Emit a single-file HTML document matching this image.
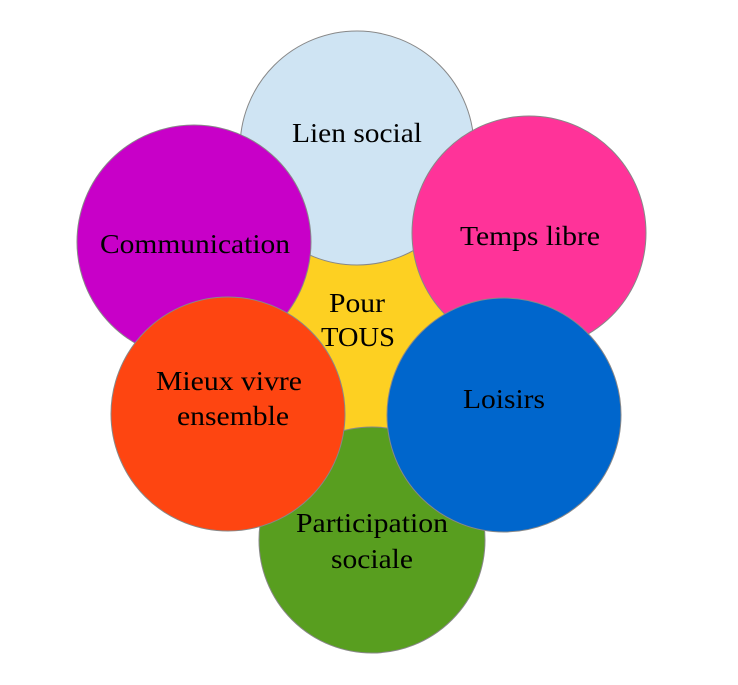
<!DOCTYPE html>
<html><head><meta charset="utf-8"><style>html,body{margin:0;padding:0;background:#fff}svg{display:block}</style></head>
<body>
<svg width="738" height="685" viewBox="0 0 738 685" xmlns="http://www.w3.org/2000/svg">
<g stroke="#888" stroke-width="1">
<circle cx="362" cy="330" r="108" fill="#fdd022" stroke="none"/>
<circle cx="372" cy="540" r="113" fill="#589e1f"/>
<circle cx="357" cy="148" r="117" fill="#cfe4f3"/>
<circle cx="194" cy="242" r="117" fill="#c800c8"/>
<circle cx="529" cy="233" r="117" fill="#ff3399"/>
<circle cx="504" cy="415" r="117" fill="#0066cc"/>
<circle cx="228" cy="414" r="117" fill="#fe4511"/>
</g>
<g font-family="Liberation Serif, serif" font-size="27" fill="#000" lengthAdjust="spacingAndGlyphs">
<text x="292" y="142" textLength="130" lengthAdjust="spacingAndGlyphs">Lien social</text>
<text x="100" y="253" textLength="190" lengthAdjust="spacingAndGlyphs">Communication</text>
<text x="460" y="245" textLength="140" lengthAdjust="spacingAndGlyphs">Temps libre</text>
<text x="329" y="312" textLength="56" lengthAdjust="spacingAndGlyphs">Pour</text>
<text x="321" y="346" textLength="74" lengthAdjust="spacingAndGlyphs">TOUS</text>
<text x="156" y="390" textLength="146" lengthAdjust="spacingAndGlyphs">Mieux vivre</text>
<text x="177" y="425" textLength="112" lengthAdjust="spacingAndGlyphs">ensemble</text>
<text x="463" y="408" textLength="82" lengthAdjust="spacingAndGlyphs">Loisirs</text>
<text x="296" y="532" textLength="152" lengthAdjust="spacingAndGlyphs">Participation</text>
<text x="331" y="568" textLength="82" lengthAdjust="spacingAndGlyphs">sociale</text>
</g>
</svg>
</body></html>
